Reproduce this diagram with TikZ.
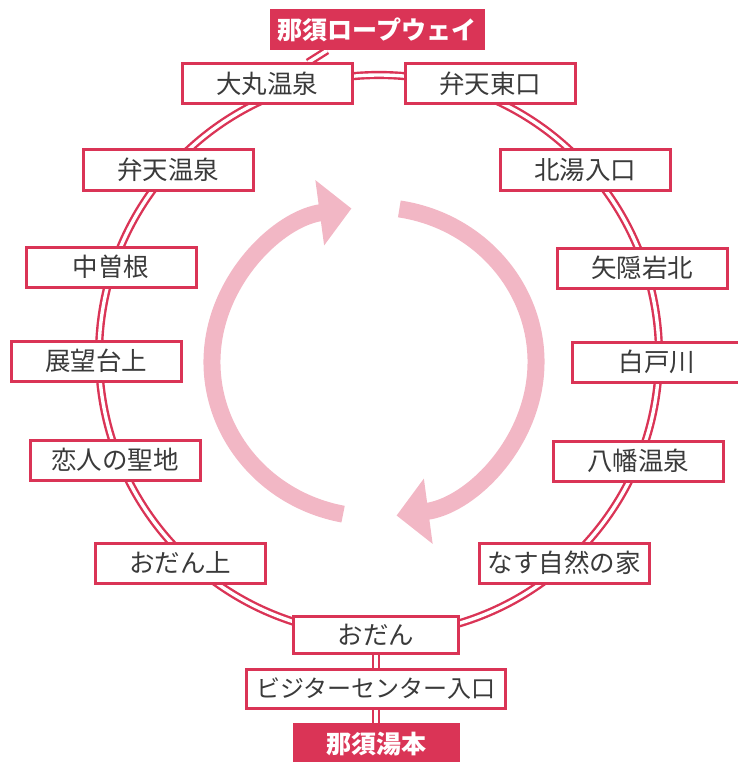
\documentclass[tikz,border=0pt]{standalone}
\usepackage{fontspec}
\setmainfont{Noto Sans CJK JP}
\usetikzlibrary{arrows.meta, backgrounds}
\definecolor{railred}{RGB}{218,52,86}
\definecolor{flowpink}{RGB}{242,183,197}
\definecolor{inkgray}{RGB}{58,58,58}
\tikzset{
  stop/.style={draw=railred, line width=3pt, fill=white, text=inkgray, inner sep=0pt,
    minimum width=170pt, minimum height=40pt, font=\fontsize{25.5pt}{25.5pt}\selectfont},
  terminus/.style={stop, fill=railred, text=white, font=\fontsize{25pt}{25pt}\selectfont\bfseries},
  rail/.style={draw=railred, double=white, line width=2.4pt, double distance=3.4pt},
  flow/.style={draw=flowpink, line width=17pt, -{Triangle[width=64pt,length=32pt]}}
}

\begin{document}
\begin{tikzpicture}[x=1pt, y=1pt]
\useasboundingbox (0,0) rectangle (737,-762);
\coordinate (hub) at (379,-355);
\draw [rail] (hub) circle (280);
\draw [flow] (374,-362) ++(259:162 and 155) arc [start angle=259, end angle=98, x radius=162, y radius=155];
\draw [flow] (374,-362) ++(81:162 and 155) arc [start angle=81, end angle=-82, x radius=162, y radius=155];
\node [terminus, minimum width=212pt, minimum height=38pt] (ropeway) at (377,-30) {那須ロープウェイ};
\node [stop] (daimaru) at (267,-84) {大丸温泉};
\node [stop] (bentenhigashi) at (490,-84) {弁天東口};
\node [stop] (bentenonsen) at (168,-170) {弁天温泉};
\node [stop] (kitayu) at (585,-170) {北湯入口};
\node [stop] (nakasone) at (111,-267) {中曽根};
\node [stop] (yagakure) at (642,-268) {矢隠岩北};
\node [stop] (tenbou) at (96,-361) {展望台上};
\node [stop] (shirato) at (657,-362) {白戸川};
\node [stop] (koibito) at (115,-460) {恋人の聖地};
\node [stop] (hachiman) at (638,-461) {八幡温泉};
\node [stop] (odanue) at (180,-563) {おだん上};
\node [stop] (shizennoie) at (564,-563) {なす自然の家};
\node [stop, minimum width=165pt, minimum height=37pt] (odan) at (376,-635) {おだん};
\node [stop, minimum width=259pt, minimum height=39pt, font=\fontsize{24pt}{24pt}\selectfont] (visitor) at (376,-689) {ビジターセンター入口};
\node [terminus, minimum width=164pt] (yumoto) at (376,-744) {那須湯本};
\begin{scope}[on background layer]
\draw [rail] ([xshift=-50pt]ropeway.south) -- ([xshift=41pt]daimaru.north);
\draw [rail] (odan) -- (visitor);
\draw [rail] (visitor) -- (yumoto);
\end{scope}
\end{tikzpicture}
\end{document}
